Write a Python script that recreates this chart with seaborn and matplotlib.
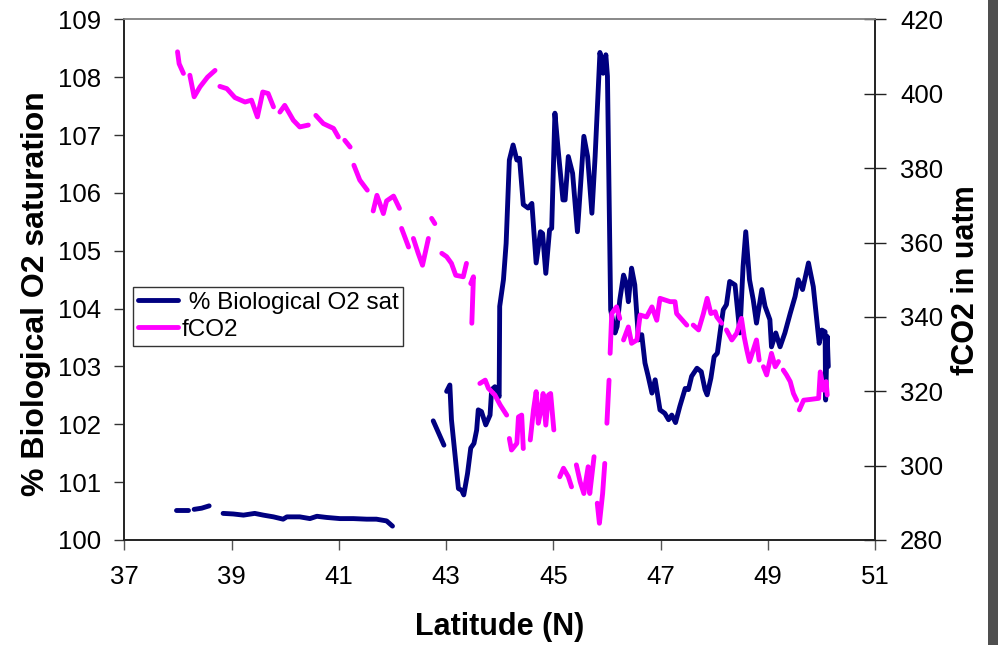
import numpy as np
import pandas as pd
import matplotlib
matplotlib.use("Agg")
import matplotlib.pyplot as plt
import seaborn as sns
from matplotlib.lines import Line2D
from matplotlib.patches import Rectangle

# ---------------- data (None = gap in the record) ----------------
o2_lat = [37.97, 38.19, None,
          38.30, 38.44, 38.58, None,
          38.84, 39.03, 39.22, 39.43, 39.59, 39.78, 39.96, 40.03, 40.27, 40.46, 40.59,
          40.77, 41.02, 41.27, 41.52, 41.70, 41.89, 42.00, None,
          42.76, 42.96, None,
          43.01, 43.07, 43.10, 43.17, 43.23, 43.29, 43.33, 43.40, 43.46, 43.52, 43.57,
          43.60, 43.66, 43.74, 43.82, 43.85, 43.91, 43.99, 44.00, 44.07, 44.12, 44.18,
          44.25, 44.32, 44.37, 44.44, 44.53, 44.60, 44.68, 44.76, 44.80, 44.86, 44.93,
          44.97, 45.03, 45.09, 45.18, 45.22, 45.28, 45.36, 45.45, 45.57, 45.64, 45.72,
          45.78, 45.87, 45.93, 45.98, 46.01, 46.07, 46.15, 46.19, 46.24, 46.31, 46.36,
          46.40, 46.46, 46.52, 46.59, 46.65, 46.71, 46.77, 46.84, 46.90, 46.99, 47.08,
          47.15, 47.21, 47.28, 47.36, 47.46, 47.52, 47.58, 47.68, 47.76, 47.83, 47.87,
          47.94, 48.00, 48.06, 48.11, 48.17, 48.23, 48.29, 48.39, 48.48, 48.54, 48.59,
          48.66, 48.73, 48.79, 48.89, 48.95, 49.04, 49.07, 49.15, 49.23, 49.32, 49.42,
          49.51, 49.57, 49.65, 49.76, 49.85, 49.96, 50.01, 50.07, 50.08, 50.11, 50.13]
o2_sat = [100.51, 100.51, None,
          100.53, 100.55, 100.59, None,
          100.46, 100.45, 100.43, 100.46, 100.43, 100.40, 100.36, 100.40, 100.40, 100.37, 100.41,
          100.39, 100.37, 100.37, 100.36, 100.36, 100.33, 100.24, None,
          102.06, 101.64, None,
          102.57, 102.68, 102.08, 101.44, 100.89, 100.86, 100.78, 101.15, 101.59, 101.67, 101.90,
          102.25, 102.22, 101.99, 102.16, 102.60, 102.65, 102.48, 104.04, 104.50, 105.13, 106.57,
          106.83, 106.57, 106.60, 105.80, 105.74, 105.82, 104.79, 105.33, 105.30, 104.61, 105.36,
          105.39, 107.38, 106.75, 105.88, 105.88, 106.63, 106.34, 105.33, 106.98, 106.63, 105.65,
          106.63, 108.43, 108.07, 108.39, 108.02, 103.98, 103.58, 103.69, 104.15, 104.58, 104.44,
          104.12, 104.70, 104.41, 103.46, 103.55, 103.06, 102.83, 102.54, 102.77, 102.25, 102.19,
          102.08, 102.16, 102.03, 102.31, 102.62, 102.60, 102.83, 102.97, 102.91, 102.60, 102.51,
          102.80, 103.17, 103.23, 103.58, 103.98, 104.07, 104.47, 104.41, 103.58, 104.73, 105.33,
          104.50, 104.15, 103.75, 104.33, 104.04, 103.81, 103.34, 103.58, 103.34, 103.58, 103.92,
          104.21, 104.50, 104.33, 104.79, 104.38, 103.40, 103.63, 103.60, 102.42, 103.52, 103.00]

co2_lat = [37.99, 38.02, 38.10, None,
           38.22, 38.30, 38.41, 38.55, 38.69, None,
           38.78, 38.91, 39.06, 39.25, 39.37, 39.48, 39.58, 39.68, 39.78, None,
           39.90, 39.99, 40.15, 40.27, 40.43, None,
           40.57, 40.71, 40.90, 40.99, None,
           41.11, 41.21, None,
           41.28, 41.39, 41.53, None,
           41.64, 41.71, 41.83, 41.89, 42.02, 42.13, None,
           42.17, 42.23, 42.30, None,
           42.39, 42.48, 42.56, 42.67, None,
           42.73, 42.79, None,
           42.92, 43.01, 43.10, 43.18, 43.32, 43.38, None,
           43.46, 43.51, 43.48, None,
           43.63, 43.73, 43.79, 43.91, 44.01, 44.13, None,
           44.18, 44.22, 44.32, 44.35, 44.41, 44.44, None,
           44.57, 44.63, 44.68, 44.72, 44.77, 44.81, 44.86, 44.91, 44.95, 45.01, None,
           45.12, 45.19, 45.28, 45.34, None,
           45.43, 45.50, 45.57, 45.65, 45.68, 45.76, None,
           45.82, 45.86, 45.92, 45.96, None,
           46.00, 46.04, None,
           46.06, 46.09, 46.18, 46.24, None,
           46.31, 46.40, 46.46, 46.56, 46.62, 46.74, 46.84, 46.93, 46.99, 47.18, 47.27,
           47.30, 47.49, None,
           47.61, 47.71, 47.80, 47.87, 47.94, 48.02, 48.05, 48.14, None,
           48.23, 48.33, 48.42, 48.51, 48.56, 48.61, 48.66, 48.73, 48.79, 48.84, None,
           48.92, 48.98, 49.07, 49.14, 49.20, None,
           49.29, 49.35, 49.42, 49.48, 49.54, None,
           49.59, 49.67, 49.79, 49.95, 49.98, 50.04, 50.09, 50.11]
co2_val = [411.3, 408.1, 405.5, None,
           405.0, 399.2, 401.9, 404.5, 406.3, None,
           402.0, 401.4, 399.0, 397.8, 398.3, 393.8, 400.5, 400.1, 396.5, None,
           395.1, 396.9, 392.9, 391.1, 391.6, None,
           394.2, 392.0, 390.7, 388.4, None,
           387.5, 385.7, None,
           380.8, 376.8, 374.1, None,
           368.5, 372.7, 367.8, 371.2, 372.5, 369.2, None,
           363.8, 361.5, 358.8, None,
           361.1, 357.1, 353.9, 361.1, None,
           366.5, 365.1, None,
           357.1, 356.2, 354.4, 351.2, 350.8, 354.4, None,
           349.0, 350.8, 338.3, None,
           322.1, 323.0, 320.8, 319.0, 316.3, 313.6, None,
           307.3, 304.2, 306.0, 313.1, 313.6, 304.6, None,
           306.9, 315.0, 319.9, 311.4, 315.0, 319.4, 310.9, 319.0, 319.4, 309.6, None,
           297.0, 299.3, 297.0, 294.3, None,
           300.2, 295.7, 292.5, 299.7, 292.5, 302.4, None,
           289.9, 284.5, 292.5, 300.6, None,
           311.4, 323.0, None,
           330.2, 340.9, 342.7, 339.6, None,
           333.8, 337.3, 332.9, 333.8, 340.5, 340.0, 342.7, 339.1, 345.0, 344.1, 344.1,
           340.9, 337.8, None,
           337.8, 336.5, 340.9, 345.0, 340.9, 341.4, 340.0, 338.3, None,
           336.5, 333.8, 335.6, 339.6, 334.7, 331.1, 328.0, 331.1, 333.8, 328.4, None,
           326.6, 324.4, 330.2, 326.6, 328.0, None,
           325.7, 324.4, 322.6, 319.4, 317.6, None,
           315.0, 317.6, 317.8, 318.1, 325.2, 320.3, 322.6, 319.0]

x_ticks = [37, 39, 41, 43, 45, 47, 49, 51]
y_left_ticks = [100, 101, 102, 103, 104, 105, 106, 107, 108, 109]
y_right_ticks = [280, 300, 320, 340, 360, 380, 400, 420]

labels = [" % Biological O2 sat", "fCO2"]


def segments(lat, val):
    rows, s = [], 0
    for a, b in zip(lat, val):
        if a is None:
            s += 1
            continue
        rows.append((a, b, s))
    return pd.DataFrame(rows, columns=["lat", "val", "seg"])


df_o2 = segments(o2_lat, o2_sat)
df_co2 = segments(co2_lat, co2_val)

NAVY = "#000080"
MAG = "#FF00FF"
FONT = "Liberation Sans"
LW = 3.5

sns.set_theme(style="white")
plt.rcParams["font.family"] = [FONT, "DejaVu Sans"]
plt.rcParams["text.color"] = "black"
plt.rcParams["axes.labelcolor"] = "black"
plt.rcParams["xtick.color"] = "black"
plt.rcParams["ytick.color"] = "black"

fig = plt.figure(figsize=(9.98, 6.45), dpi=100)
ax = fig.add_axes([0.1247, 0.1628, 0.7520, 0.8070])
ax2 = ax.twinx()

sns.lineplot(data=df_o2, x="lat", y="val", units="seg", estimator=None, sort=False,
             color=NAVY, lw=LW, ax=ax, solid_capstyle="round", solid_joinstyle="round")
sns.lineplot(data=df_co2, x="lat", y="val", units="seg", estimator=None, sort=False,
             color=MAG, lw=LW, ax=ax2, solid_capstyle="round", solid_joinstyle="round")

ax.set_xlim(37, 51)
ax.set_ylim(100, 109)
ax2.set_ylim(280, 420)
ax.set_xticks(x_ticks)
ax.set_yticks(y_left_ticks)
ax2.set_yticks(y_right_ticks)
ax.set_xticklabels([str(v) for v in x_ticks])
ax.set_yticklabels([str(v) for v in y_left_ticks])
ax2.set_yticklabels([str(v) for v in y_right_ticks])

ax.set_xlabel("Latitude (N)", fontsize=22, fontweight="bold", color="black")
ax.set_ylabel("% Biological O2 saturation", fontsize=23, fontweight="bold", color="black")
ax2.set_ylabel("fCO2 in uatm", fontsize=22, fontweight="bold", color="black")
ax.xaxis.set_label_coords(0.5, -0.138)
ax.yaxis.set_label_coords(-0.098, 0.4726)
ax2.yaxis.set_label_coords(1.101, 0.5)

ax.tick_params(axis="x", direction="out", length=7, width=1, color="#555555",
               labelsize=18.5, pad=11, bottom=True, labelcolor="black")
ax.tick_params(axis="y", direction="out", length=7, width=1, color="#333333",
               labelsize=18.5, pad=10, left=True, labelcolor="black")
ax2.tick_params(axis="y", direction="inout", length=16, width=1, color="#222222",
                labelsize=18.5, pad=10, right=True, labelcolor="black")

for a in (ax, ax2):
    for s in a.spines.values():
        s.set_linewidth(1.2)
        s.set_color("#222222")
    a.spines["top"].set_color("#888888")
    a.grid(False)
ax.set_facecolor("white")
ax2.patch.set_visible(False)

handles = [Line2D([], [], color=NAVY, lw=LW), Line2D([], [], color=MAG, lw=LW)]
leg = ax2.legend(handles, labels, loc="upper left", bbox_to_anchor=(0.0113, 0.486),
                 fontsize=17.5, frameon=True, fancybox=False, framealpha=1,
                 edgecolor="#333333", borderpad=0.2, labelspacing=0.2,
                 handlelength=1.65, handletextpad=0.15, borderaxespad=0,
                 labelcolor="black")
leg.get_frame().set_linewidth(1.0)

fig.patches.append(Rectangle((0.99, 0), 0.01, 1, transform=fig.transFigure,
                             facecolor="#4f4f4f", edgecolor="none"))

fig.savefig("out.png", dpi=100)
